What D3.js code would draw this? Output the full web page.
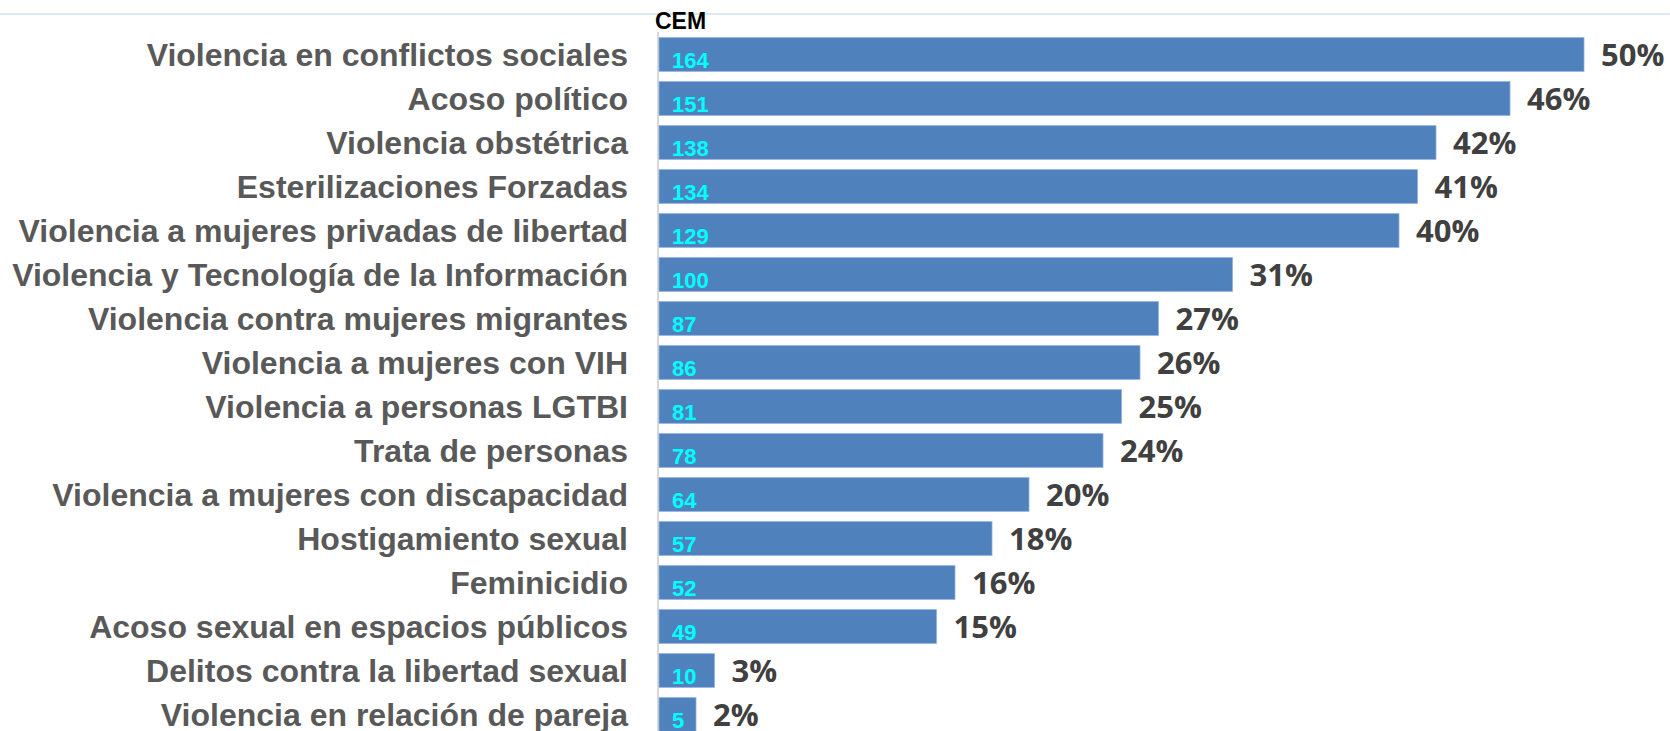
<!DOCTYPE html>
<html>
<head>
<meta charset="utf-8">
<script src="https://cdn.jsdelivr.net/npm/d3@7"></script>
<style>
  body { margin: 0; background: #fff; }
  svg { display: block; }
</style>
</head>
<body>
<div id="chart"></div>
<script>
// data
const categories = [
    "Violencia en conflictos sociales",
    "Acoso político",
    "Violencia obstétrica",
    "Esterilizaciones Forzadas",
    "Violencia a mujeres privadas de libertad",
    "Violencia y Tecnología de la Información",
    "Violencia contra mujeres migrantes",
    "Violencia a mujeres con VIH",
    "Violencia a personas LGTBI",
    "Trata de personas",
    "Violencia a mujeres con discapacidad",
    "Hostigamiento sexual",
    "Feminicidio",
    "Acoso sexual en espacios públicos",
    "Delitos contra la libertad sexual",
    "Violencia en relación de pareja"
];
const counts = [164, 151, 138, 134, 129, 100, 87, 86, 81, 78, 64, 57, 52, 49, 10, 5];
const percents = [50, 46, 42, 41, 40, 31, 27, 26, 25, 24, 20, 18, 16, 15, 3, 2];
const seriesName = "CEM";

const width = 1670;
const height = 731;
const barStart = 659;  // start of bars
const barMax = 925;    // length of the longest bar
const step = 44;
const plotTop = 32.5;

const data = categories.map((c, i) => ({ name: c, count: counts[i], pct: percents[i] }));

const svg = d3.select("#chart")
    .append("svg")
    .attr("width", width)
    .attr("height", height);

// frame line at the top
svg.append("line")
    .attr("x1", 0).attr("x2", width)
    .attr("y1", 14).attr("y2", 14)
    .attr("stroke", "#dce9f1")
    .attr("stroke-width", 2);

const xScale = d3.scaleLinear()
    .domain([0, d3.max(percents)])
    .range([barStart, barStart + barMax]);

const yScale = d3.scaleBand()
    .domain(categories)
    .range([plotTop, plotTop + step * categories.length])
    .paddingInner(0.234)
    .paddingOuter(0.117);

// axis line
svg.append("line")
    .attr("x1", barStart - 1).attr("x2", barStart - 1)
    .attr("y1", 32).attr("y2", height)
    .attr("stroke", "#d9d9d9")
    .attr("stroke-width", 2);

// series label
svg.append("text")
    .attr("x", 655)
    .attr("y", 29)
    .style("font-family", "'Liberation Sans', Arial, sans-serif")
    .style("font-weight", "bold")
    .style("font-size", "23px")
    .style("fill", "#000")
    .text(seriesName);

// category labels
svg.selectAll("text.cat")
    .data(data)
    .enter()
    .append("text")
    .attr("class", "cat")
    .attr("x", 628)
    .attr("y", d => yScale(d.name) + yScale.bandwidth() / 2)
    .attr("dy", "0.36em")
    .attr("text-anchor", "end")
    .style("font-family", "'Liberation Sans', Arial, sans-serif")
    .style("font-weight", "bold")
    .style("font-size", "32px")
    .style("fill", "#595959")
    .text(d => d.name);

// bars
svg.selectAll("rect.bar")
    .data(data)
    .enter()
    .append("rect")
    .attr("class", "bar")
    .attr("x", xScale(0))
    .attr("y", d => yScale(d.name))
    .attr("width", d => xScale(d.pct) - xScale(0))
    .attr("height", yScale.bandwidth())
    .attr("fill", "#4f81bd")
    .attr("stroke", "#8fb0da")
    .attr("stroke-width", 0.8);

// counts inside the bars
svg.selectAll("text.count")
    .data(data)
    .enter()
    .append("text")
    .attr("class", "count")
    .attr("x", xScale(0) + 13)
    .attr("y", d => yScale(d.name) + yScale.bandwidth() - 3.5)
    .style("font-family", "'Liberation Sans', Arial, sans-serif")
    .style("font-weight", "bold")
    .style("font-size", "22px")
    .style("fill", "#00ffff")
    .text(d => d.count);

// percent labels
svg.selectAll("text.pct")
    .data(data)
    .enter()
    .append("text")
    .attr("class", "pct")
    .attr("x", d => xScale(d.pct) + 17)
    .attr("y", d => yScale(d.name) + yScale.bandwidth() - 5)
    .style("font-family", "'Open Sans', sans-serif")
    .style("font-weight", "bold")
    .style("font-size", "31px")
    .style("fill", "#404040")
    .text(d => d.pct + "%");
</script>
</body>
</html>
